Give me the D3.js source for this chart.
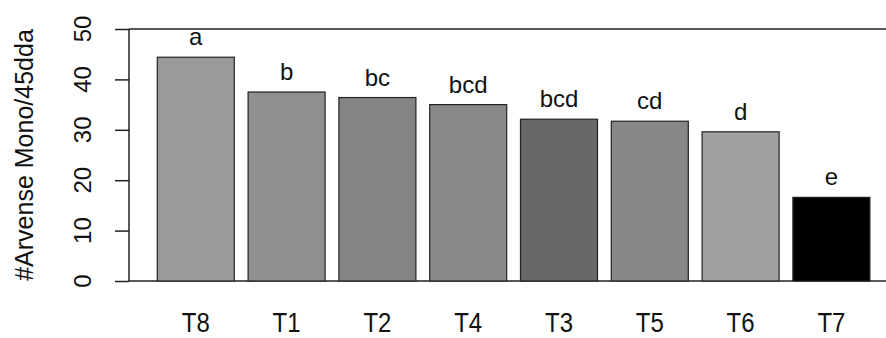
<!DOCTYPE html>
<html>
<head>
<meta charset="utf-8">
<script src="https://cdn.jsdelivr.net/npm/d3@7"></script>
<style>
  body { margin: 0; background: #fff; }
  text { font-family: "Liberation Sans", Arial, sans-serif; fill: #111; }
</style>
</head>
<body>
<div id="chart"></div>
<script>
var treatments = ['T8', 'T1', 'T2', 'T4', 'T3', 'T5', 'T6', 'T7'];
var weeds = [44.4, 37.5, 36.4, 35.0, 32.1, 31.7, 29.6, 16.6];
var letters = ['a', 'b', 'bc', 'bcd', 'bcd', 'cd', 'd', 'e'];
var fills = ['#9a9a9a', '#8f8f8f', '#848484', '#8a8a8a', '#686868', '#878787', '#a0a0a0', '#000000'];
var yTicks = [0, 10, 20, 30, 40, 50];

var width = 886,
    height = 338;

var svg = d3.select('#chart').append('svg')
  .attr('width', width)
  .attr('height', height);

var y = d3.scaleLinear()
  .domain([0, 50])
  .range([281, 29]);

var x = d3.scaleBand()
  .domain(treatments)
  .range([150.4, 876.8])
  .paddingInner(0.152)
  .paddingOuter(0.076);

// box lines top and bottom
svg.append('line')
  .attr('x1', 129).attr('x2', width)
  .attr('y1', y(50)).attr('y2', y(50))
  .attr('stroke', '#222').attr('stroke-width', 1.5);
svg.append('line')
  .attr('x1', 129).attr('x2', width)
  .attr('y1', y(0)).attr('y2', y(0))
  .attr('stroke', '#222').attr('stroke-width', 1.5);

// bars
svg.append('g').selectAll('rect')
  .data(weeds)
  .enter().append('rect')
  .attr('x', function(d, i) { return x(treatments[i]); })
  .attr('y', function(d) { return y(d); })
  .attr('width', x.bandwidth())
  .attr('height', function(d) { return y(0) - y(d); })
  .attr('fill', function(d, i) { return fills[i]; })
  .attr('stroke', '#222')
  .attr('stroke-width', 1.2);

// letters over bars
svg.append('g').selectAll('text')
  .data(weeds)
  .enter().append('text')
  .attr('x', function(d, i) { return x(treatments[i]) + x.bandwidth() / 2; })
  .attr('y', function(d) { return y(d) - 12; })
  .attr('text-anchor', 'middle')
  .attr('font-size', 24)
  .text(function(d, i) { return letters[i]; });

// x labels (a bit stretched vertically, like the source)
svg.append('g').selectAll('text')
  .data(treatments)
  .enter().append('text')
  .attr('transform', function(d) {
    return 'translate(' + (x(d) + x.bandwidth() / 2) + ',332) scale(1,1.15)';
  })
  .attr('text-anchor', 'middle')
  .attr('font-size', 24)
  .text(Object);

// y axis
var yAxis = svg.append('g')
  .attr('transform', 'translate(129,0)')
  .call(d3.axisLeft(y).tickValues(yTicks).tickSize(14).tickFormat(''));
yAxis.select('.domain').remove();
yAxis.selectAll('line').attr('stroke', '#222').attr('stroke-width', 1.5);
yAxis.append('line')
  .attr('y1', y(0)).attr('y2', y(50))
  .attr('stroke', '#222').attr('stroke-width', 1.5);

svg.append('g').selectAll('text')
  .data(yTicks)
  .enter().append('text')
  .attr('transform', function(d) { return 'translate(91,' + y(d) + ') rotate(-90)'; })
  .attr('text-anchor', 'middle')
  .attr('font-size', 24)
  .text(String);

svg.append('text')
  .attr('transform', 'translate(33,155) rotate(-90)')
  .attr('text-anchor', 'middle')
  .attr('font-size', 25)
  .text('#Arvense Mono/45dda');
</script>
</body>
</html>
